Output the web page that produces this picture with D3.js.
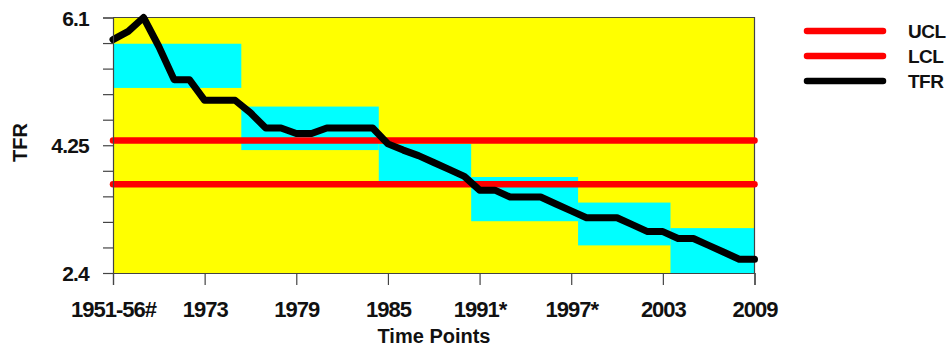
<!DOCTYPE html>
<html>
<head>
<meta charset="utf-8">
<script src="https://cdn.jsdelivr.net/npm/d3@7/dist/d3.min.js"></script>
<style>
  html, body { margin: 0; padding: 0; background: #ffffff; }
  svg { display: block; }
  text { font-family: Arial, "Liberation Sans", sans-serif; font-weight: bold; fill: #111; }
</style>
</head>
<body>
<svg id="chart" width="950" height="348"></svg>
<script>
// ---- data ----
const categories = ["1951-56#","1968","1969","1970","1971","1972","1973","1974","1975","1976","1977","1978","1979","1980","1981","1982","1983","1984","1985","1986","1987","1988","1989","1990","1991*","1992","1993","1994","1995","1996","1997*","1998","1999","2000","2001","2002","2003","2004","2005","2006","2007","2008","2009"];
const tfr = [5.78,5.9,6.1,5.68,5.2,5.2,4.9,4.9,4.9,4.72,4.5,4.5,4.42,4.42,4.5,4.5,4.5,4.5,4.27,4.18,4.1,4.0,3.9,3.8,3.6,3.6,3.5,3.5,3.5,3.4,3.3,3.2,3.2,3.2,3.1,3.0,3.0,2.9,2.9,2.8,2.7,2.6,2.6];
const ucl = 4.32;
const lcl = 3.685;
const xTickIndex = [0,6,12,18,24,30,36,42];
const yTicks = [2.4,2.77,3.14,3.51,3.88,4.25,4.62,4.99,5.36,5.73,6.1];
const yTickLabels = ["2.4","","","","","4.25","","","","","6.1"];
const bandStart = [0, 8.4, 17.4, 23.45, 30.45, 36.5];
const bandEnd   = [8.4, 17.4, 23.45, 30.45, 36.5, 42];
const bandLow   = [5.08, 4.18, 3.71, 3.15, 2.8, 2.4];
const bandHigh  = [5.72, 4.81, 4.27, 3.79, 3.42, 3.05];
const legendItems = ["UCL","LCL","TFR"];
const legendColors = ["#ff0000","#ff0000","#000000"];

// ---- layout ----
const L = 113, R = 754.5, T = 17.5, B = 273;
const svg = d3.select("#chart");
const x = d3.scaleLinear().domain([0, categories.length - 1]).range([L, R]);
const y = d3.scaleLinear().domain([2.4, 6.1]).range([B, T]);

// plot background
svg.append("rect").attr("x", L).attr("y", T).attr("width", R - L).attr("height", B - T).attr("fill", "#ffff00");

// cyan bands
svg.append("g").selectAll("rect").data(bandStart).join("rect")
  .attr("x", (d, i) => x(bandStart[i]))
  .attr("width", (d, i) => x(bandEnd[i]) - x(bandStart[i]))
  .attr("y", (d, i) => y(bandHigh[i]))
  .attr("height", (d, i) => y(bandLow[i]) - y(bandHigh[i]))
  .attr("fill", "#00ffff");

// frame (top & right)
svg.append("path")
  .attr("d", `M${L},${T}H${R}V${B}`)
  .attr("fill", "none").attr("stroke", "#444").attr("stroke-width", 1.2);

// control limit lines
[ucl, lcl].forEach(v => {
  svg.append("line")
    .attr("x1", x(0)).attr("x2", x(categories.length - 1))
    .attr("y1", y(v)).attr("y2", y(v))
    .attr("stroke", "#ff0000").attr("stroke-width", 6.5).attr("stroke-linecap", "round");
});

// TFR line
const line = d3.line().x((d, i) => x(i)).y(d => y(d));
svg.append("path").datum(tfr)
  .attr("d", line)
  .attr("fill", "none").attr("stroke", "#000").attr("stroke-width", 7)
  .attr("stroke-linejoin", "round").attr("stroke-linecap", "round");

// axes
const yAxis = d3.axisLeft(y).tickValues(yTicks).tickSize(10).tickPadding(14)
  .tickFormat((d, i) => yTickLabels[i]);
const gy = svg.append("g").attr("transform", `translate(${L},0)`).call(yAxis);
gy.selectAll("path, line").attr("stroke", "#444").attr("stroke-width", 1.2);
gy.selectAll("text").attr("font-size", 21).attr("letter-spacing", -0.8)
  .attr("dy", "0.36em").attr("fill", "#111");

const xAxis = d3.axisBottom(x).tickValues(xTickIndex).tickSize(12).tickPadding(16)
  .tickFormat(d => categories[d]);
const gx = svg.append("g").attr("transform", `translate(0,${B})`).call(xAxis);
gx.selectAll("path, line").attr("stroke", "#444").attr("stroke-width", 1.2);
gx.selectAll("text").attr("font-size", 22).attr("letter-spacing", -1)
  .attr("dy", "0.71em").attr("fill", "#111");

// axis titles
svg.append("text").attr("x", 434).attr("y", 343).attr("text-anchor", "middle")
  .attr("font-size", 20).text("Time Points");
svg.append("text").attr("transform", "translate(27,142.5) rotate(-90)")
  .attr("text-anchor", "middle").attr("font-size", 20).text("TFR");

// legend
const lg = svg.append("g");
legendItems.forEach((name, i) => {
  const cy = 31 + i * 25;
  lg.append("line").attr("x1", 807).attr("x2", 883).attr("y1", cy).attr("y2", cy)
    .attr("stroke", legendColors[i]).attr("stroke-width", 6.5).attr("stroke-linecap", "round");
  lg.append("text").attr("x", 908).attr("y", cy + 7).attr("font-size", 19)
    .attr("letter-spacing", -0.5).text(name);
});
</script>
</body>
</html>
